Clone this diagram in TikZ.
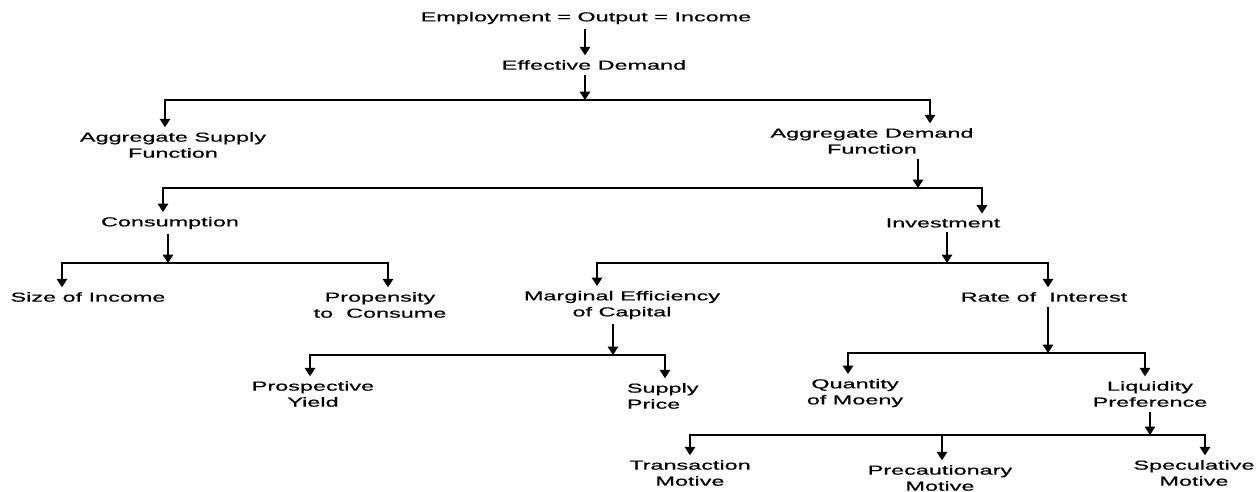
\documentclass[tikz,border=0pt]{standalone}
\usepackage{fontspec}
\setmainfont[FakeStretch=1.8, FakeBold=0.6]{Liberation Sans}
\usetikzlibrary{arrows.meta}
\begin{document}
\begin{tikzpicture}[x=0.025cm, y=-0.025cm, >={Triangle[width=7.5pt,length=6pt]}, line width=1pt,
		lbl/.style={font=\fontsize{9.25}{11.4}\selectfont, align=center, inner sep=3pt}]
	\useasboundingbox (0,0) rectangle (1257,492);
	% the top of the chain
	\node[lbl] (emp) at (586,18) {Employment = Output = Income};
	\node[lbl] (eff) at (594,65) {Effective Demand};
	\coordinate (j0) at (585,0);
	\draw[->] (emp.south -| j0) -- (eff.north -| j0);
	% supply and demand
	\node[lbl] (as) at (173,145) {Aggregate Supply\\Function};
	\node[lbl] (ad) at (872,141) {Aggregate Demand\\Function};
	\coordinate (j1) at (585,100);
	\coordinate (b1l) at (165,100);
	\coordinate (b1r) at (930,100);
	\draw[->] (eff.south -| j1) -- (j1);
	\draw[<->] (as.north -| b1l) |- (b1r) -- (ad.north -| b1r);
	% consumption and investment
	\node[lbl] (con) at (170,223) {Consumption};
	\node[lbl] (inv) at (943,223) {Investment};
	\coordinate (j2) at (918,188);
	\coordinate (b2l) at (163,188);
	\coordinate (b2r) at (982,188);
	\draw[->] (ad.south -| j2) -- (j2);
	\draw[<->] (con.north -| b2l) |- (b2r) -- (inv.north -| b2r);
	% what consumption hangs on
	\node[lbl] (sz) at (88,297) {Size of Income};
	\node[lbl] (prop) at (380,305) {Propensity\\to~ Consume};
	\coordinate (j3) at (168,263);
	\coordinate (b3l) at (62,263);
	\coordinate (b3r) at (388,263);
	\draw[->] (con.south -| j3) -- (j3);
	\draw[<->] (sz.north -| b3l) |- (b3r) -- (prop.north -| b3r);
	% what investment hangs on
	\node[lbl] (mec) at (622,305) {Marginal Efficiency\\of Capital};
	\node[lbl] (roi) at (1044,297) {Rate of~ Interest};
	\coordinate (j4) at (947,263);
	\coordinate (b4l) at (597,263);
	\coordinate (b4r) at (1048,263);
	\draw[->] (inv.south -| j4) -- (j4);
	\draw[<->] (mec.north -| b4l) |- (b4r) -- (roi.north -| b4r);
	% the efficiency of capital
	\node[lbl] (py) at (313,394) {Prospective\\Yield};
	\node[lbl, align=left, anchor=west] (sp) at (622,396) {Supply\\Price};
	\coordinate (j5) at (613,355);
	\coordinate (b5l) at (310,355);
	\coordinate (b5r) at (665,355);
	\draw[->] (mec.south -| j5) -- (j5);
	\draw[<->] (py.north -| b5l) |- (b5r) -- (sp.north -| b5r);
	% the rate of interest
	\node[lbl] (qm) at (855,393) {Quantity\\of Moeny};
	\node[lbl] (lp) at (1150,394) {Liquidity\\Preference};
	\coordinate (j6) at (1048,353);
	\coordinate (b6l) at (848,353);
	\coordinate (b6r) at (1145,353);
	\draw[->] (roi.south -| j6) -- (j6);
	\draw[<->] (qm.north -| b6l) |- (b6r) -- (lp.north -| b6r);
	% the three motives
	\node[lbl] (tm) at (690,473) {Transaction\\Motive};
	\node[lbl] (pm) at (940,478) {Precautionary\\Motive};
	\node[lbl] (smv) at (1194,473) {Speculative\\Motive};
	\coordinate (j7) at (1150,435);
	\coordinate (b7l) at (690,435);
	\coordinate (b7m) at (942,435);
	\coordinate (b7r) at (1205,435);
	\draw[->] (lp.south -| j7) -- (j7);
	\draw[<->] (tm.north -| b7l) |- (b7r) -- (smv.north -| b7r);
	\draw[->] (b7m) -- (pm.north -| b7m);
\end{tikzpicture}
\end{document}
